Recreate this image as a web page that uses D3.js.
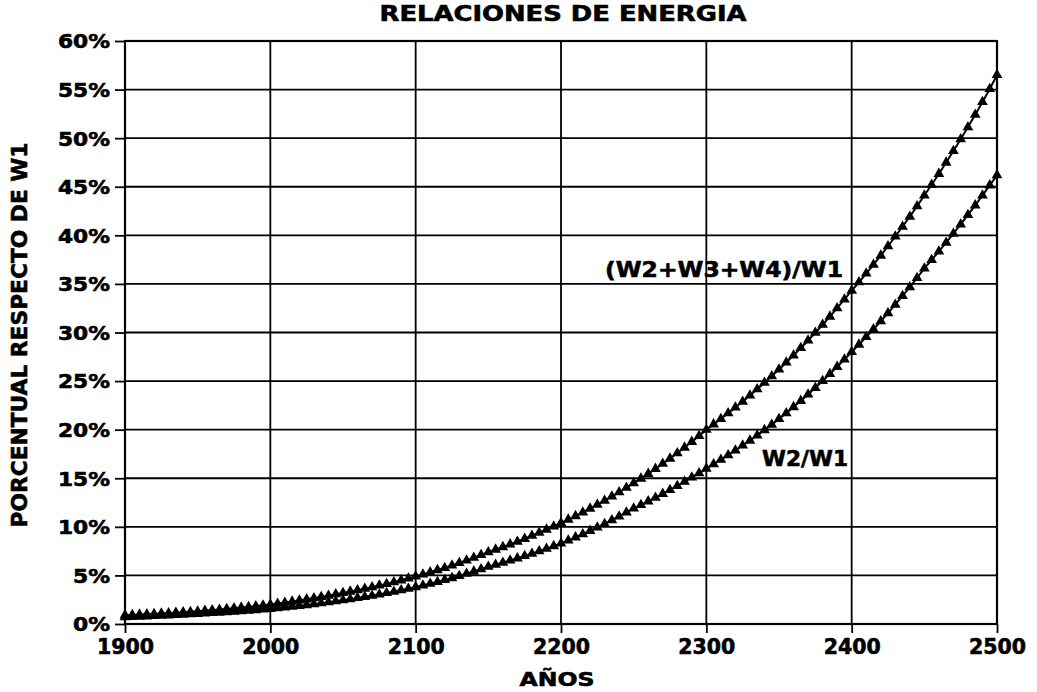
<!DOCTYPE html>
<html>
<head>
<meta charset="utf-8">
<script src="https://cdn.jsdelivr.net/npm/d3@7/dist/d3.min.js"></script>
<style>
  html, body { margin: 0; padding: 0; background: #fff; }
  svg { display: block; }
  text { font-family: "DejaVu Sans", "Liberation Sans", sans-serif; font-weight: bold; fill: #000; stroke: #000; stroke-width: 0.6px; }
</style>
</head>
<body>
<svg id="chart" width="1037" height="692"></svg>
<script>
// ---- data ----
const years = d3.range(1900, 2501, 5);

const seriesTotal = [ // (W2+W3+W4)/W1, percent
  0.90, 0.93, 0.97, 1.00, 1.04, 1.08, 1.12, 1.16, 1.21, 1.25, 1.30,
  1.36, 1.42, 1.48, 1.55, 1.62, 1.69, 1.76, 1.84, 1.92, 2.00,
  2.10, 2.20, 2.31, 2.42, 2.54, 2.66, 2.79, 2.92, 3.06, 3.20,
  3.34, 3.48, 3.63, 3.79, 3.96, 4.13, 4.31, 4.50, 4.70, 4.90,
  5.11, 5.32, 5.55, 5.78, 6.02, 6.28, 6.54, 6.82, 7.10, 7.40,
  7.66, 7.92, 8.20, 8.48, 8.77, 9.08, 9.39, 9.72, 10.05, 10.40,
  10.75, 11.11, 11.49, 11.88, 12.28, 12.69, 13.12, 13.56, 14.02, 14.50,
  14.97, 15.46, 15.97, 16.49, 17.03, 17.58, 18.16, 18.75, 19.36, 20.00,
  20.55, 21.11, 21.69, 22.28, 22.89, 23.52, 24.17, 24.83, 25.51, 26.20,
  26.92, 27.65, 28.41, 29.18, 29.98, 30.80, 31.64, 32.51, 33.40, 34.30,
  35.17, 36.07, 36.98, 37.92, 38.89, 39.88, 40.89, 41.93, 43.00, 44.10,
  45.20, 46.33, 47.49, 48.68, 49.89, 51.14, 52.42, 53.73, 55.07, 56.50
];

const seriesW2 = [ // W2/W1, percent
  0.70, 0.73, 0.76, 0.79, 0.83, 0.86, 0.89, 0.93, 0.97, 1.01, 1.05,
  1.09, 1.13, 1.18, 1.23, 1.28, 1.33, 1.38, 1.43, 1.49, 1.55,
  1.62, 1.70, 1.78, 1.86, 1.95, 2.04, 2.14, 2.24, 2.34, 2.45,
  2.56, 2.68, 2.80, 2.92, 3.05, 3.19, 3.33, 3.48, 3.64, 3.80,
  3.97, 4.15, 4.34, 4.53, 4.73, 4.95, 5.17, 5.40, 5.64, 5.90,
  6.10, 6.32, 6.54, 6.76, 7.00, 7.24, 7.49, 7.75, 8.02, 8.30,
  8.60, 8.92, 9.25, 9.59, 9.94, 10.30, 10.68, 11.07, 11.48, 11.90,
  12.26, 12.63, 13.01, 13.40, 13.80, 14.21, 14.64, 15.08, 15.53, 16.00,
  16.45, 16.91, 17.38, 17.87, 18.37, 18.88, 19.41, 19.96, 20.52, 21.10,
  21.70, 22.33, 22.97, 23.63, 24.31, 25.01, 25.73, 26.47, 27.22, 28.00,
  28.76, 29.54, 30.34, 31.16, 32.00, 32.87, 33.76, 34.67, 35.61, 36.60,
  37.46, 38.35, 39.25, 40.18, 41.13, 42.10, 43.09, 44.11, 45.15, 46.20
];

const xTicks = [1900, 2000, 2100, 2200, 2300, 2400, 2500];
const yTicks = [0, 5, 10, 15, 20, 25, 30, 35, 40, 45, 50, 55, 60];

const title = "RELACIONES DE ENERGIA";
const xTitle = "AÑOS";
const yTitle = "PORCENTUAL RESPECTO DE W1";
const labelTotal = "(W2+W3+W4)/W1";
const labelW2 = "W2/W1";

// ---- layout ----
const svg = d3.select("#chart");
const plotL = 125, plotR = 997, plotT = 41, plotB = 624;

const x = d3.scaleLinear().domain([1900, 2500]).range([plotL, plotR]);
const y = d3.scaleLinear().domain([0, 60]).range([plotB, plotT]);

// gridlines
const grid = svg.append("g");
grid.selectAll("line.h").data(yTicks).join("line")
  .attr("class", "h")
  .attr("x1", plotL).attr("x2", plotR)
  .attr("y1", d => y(d)).attr("y2", d => y(d))
  .attr("stroke", "#000").attr("stroke-width", 1.8);
grid.selectAll("line.v").data(xTicks).join("line")
  .attr("class", "v")
  .attr("y1", plotT).attr("y2", plotB)
  .attr("x1", d => x(d)).attr("x2", d => x(d))
  .attr("stroke", "#000").attr("stroke-width", 1.8);

// frame
svg.append("rect").attr("x", plotL).attr("y", plotT)
  .attr("width", plotR - plotL).attr("height", plotB - plotT)
  .attr("fill", "none").attr("stroke", "#000").attr("stroke-width", 2.2);

// axes
const yAxis = svg.append("g").attr("transform", `translate(${plotL},0)`)
  .call(d3.axisLeft(y).tickValues(yTicks).tickFormat(d => d + "%").tickSize(10).tickPadding(5));
const xAxis = svg.append("g").attr("transform", `translate(0,${plotB})`)
  .call(d3.axisBottom(x).tickValues(xTicks).tickFormat(d3.format("d")).tickSize(9).tickPadding(6));

[yAxis, xAxis].forEach(a => {
  a.select(".domain").remove();
  a.selectAll(".tick line").attr("stroke", "#000").attr("stroke-width", 1.8);
  a.selectAll("text").attr("fill", "#000")
    .style("font-family", '"DejaVu Sans", sans-serif').style("font-weight", "bold");
});
yAxis.selectAll("text").style("font-size", "19px")
  .attr("textLength", d => (d >= 10 ? 52 : 37)).attr("lengthAdjust", "spacingAndGlyphs")
  .attr("dy", "0.36em");
xAxis.selectAll("text").style("font-size", "21px")
  .attr("textLength", 57).attr("lengthAdjust", "spacingAndGlyphs")
  .attr("dy", "0.72em");

// series
const lineGen = d3.line().x((d, i) => x(years[i])).y(d => y(d));
const tri = d3.symbol().type(d3.symbolTriangle).size(50);

[seriesTotal, seriesW2].forEach(s => {
  const g = svg.append("g");
  g.append("path").datum(s).attr("d", lineGen)
    .attr("fill", "none").attr("stroke", "#000").attr("stroke-width", 2);
  g.selectAll("path.m").data(s).join("path")
    .attr("class", "m")
    .attr("d", tri)
    .attr("transform", (d, i) => `translate(${x(years[i])},${y(d)})`)
    .attr("fill", "#000");
});

// texts
svg.append("text").attr("x", 563).attr("y", 21).attr("text-anchor", "middle")
  .style("font-size", "21px").attr("textLength", 367).attr("lengthAdjust", "spacingAndGlyphs")
  .text(title);

svg.append("text").attr("x", 557).attr("y", 686).attr("text-anchor", "middle")
  .style("font-size", "19px").attr("textLength", 75).attr("lengthAdjust", "spacingAndGlyphs")
  .text(xTitle);

svg.append("text").attr("transform", "translate(27,335) rotate(-90)")
  .attr("text-anchor", "middle")
  .style("font-size", "22px").attr("textLength", 385).attr("lengthAdjust", "spacingAndGlyphs")
  .text(yTitle);

svg.append("text").attr("x", 724).attr("y", 277).attr("text-anchor", "middle")
  .style("font-size", "21px").attr("textLength", 238).attr("lengthAdjust", "spacingAndGlyphs")
  .text(labelTotal);

svg.append("text").attr("x", 805).attr("y", 466).attr("text-anchor", "middle")
  .style("font-size", "21px").attr("textLength", 86).attr("lengthAdjust", "spacingAndGlyphs")
  .text(labelW2);
</script>
</body>
</html>
